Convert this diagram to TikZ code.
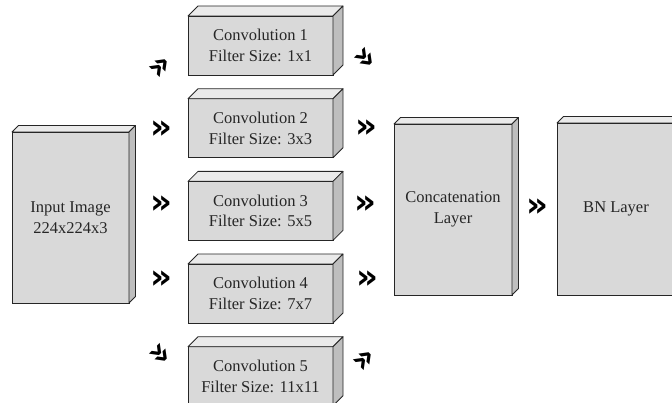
\documentclass[tikz,border=0pt]{standalone}
\usepackage{fontspec}
\setmainfont{Liberation Serif}
\newfontfamily\chevfont{DejaVu Sans}
\definecolor{frontgray}{HTML}{D9D9D9}
\definecolor{topgray}{HTML}{EAEAEA}
\definecolor{sidegray}{HTML}{BEBEBE}
\definecolor{inkgray}{HTML}{262626}
\tikzset{
  layerbox/.style={draw=inkgray, line width=0.8pt, fill=frontgray, rectangle, outer sep=0pt,
    inner sep=0pt, align=center, font=\fontsize{16.5}{20.5}\selectfont, text=inkgray, anchor=north west},
  topface/.style={draw=inkgray, line width=0.8pt, fill=topgray, line join=round},
  sideface/.style={draw=inkgray, line width=0.8pt, fill=sidegray, line join=round},
  chev/.style={font=\chevfont\bfseries\fontsize{34}{34}\selectfont, text=black, inner sep=0pt}
}
\newcommand\boxfaces[2]{%
  \draw[topface] (#1.north west) -- ([shift={(#2,-#2)}]#1.north west) -- ([shift={(#2,-#2)}]#1.north east) -- (#1.north east) -- cycle;
  \draw[sideface] (#1.north east) -- ([shift={(#2,-#2)}]#1.north east) -- ([shift={(#2,-#2)}]#1.south east) -- (#1.south east) -- cycle;
}
\begin{document}
\begin{tikzpicture}[x=1pt,y=-1pt]
\useasboundingbox (0,0) rectangle (672,403);
\clip (0,0) rectangle (672,403);
% input
\node[layerbox, minimum width=117pt, minimum height=171pt] (inp) at (12,132) {Input Image\\224x224x3};
\boxfaces{inp}{6.5}
% convolutions
\node[layerbox, minimum width=145pt, minimum height=59pt] (c1) at (188,16) {Convolution 1\\Filter Size: 1x1};
\boxfaces{c1}{10}
\node[layerbox, minimum width=145pt, minimum height=59pt] (c2) at (188,98.7) {Convolution 2\\Filter Size: 3x3};
\boxfaces{c2}{10}
\node[layerbox, minimum width=145pt, minimum height=59pt] (c3) at (188,181.4) {Convolution 3\\Filter Size: 5x5};
\boxfaces{c3}{10}
\node[layerbox, minimum width=145pt, minimum height=59pt] (c4) at (188,264) {Convolution 4\\Filter Size: 7x7};
\boxfaces{c4}{10}
\node[layerbox, minimum width=145pt, minimum height=59pt] (c5) at (188,346.7) {Convolution 5\\Filter Size: 11x11};
\boxfaces{c5}{10}
% concat and BN
\node[layerbox, minimum width=118pt, minimum height=171pt] (cat) at (394,124) {Concatenation\\Layer};
\boxfaces{cat}{6.5}
\node[layerbox, minimum width=118pt, minimum height=172pt] (bn) at (557,123) {BN Layer};
\boxfaces{bn}{6.5}
% chevron arrows
\node[chev, rotate=45] (a1) at (161,67) {»};
\node[chev] (a2) at (161,130) {»};
\node[chev] (a3) at (161,205) {»};
\node[chev] (a4) at (161,280) {»};
\node[chev, rotate=-45] (a5) at (160,355) {»};
\node[chev, rotate=-45] (b1) at (365,59) {»};
\node[chev] (b2) at (366,129) {»};
\node[chev] (b3) at (365,205) {»};
\node[chev] (b4) at (367,280) {»};
\node[chev, rotate=45] (b5) at (365,360) {»};
\node[chev] (d1) at (537,208) {»};
\end{tikzpicture}
\end{document}
